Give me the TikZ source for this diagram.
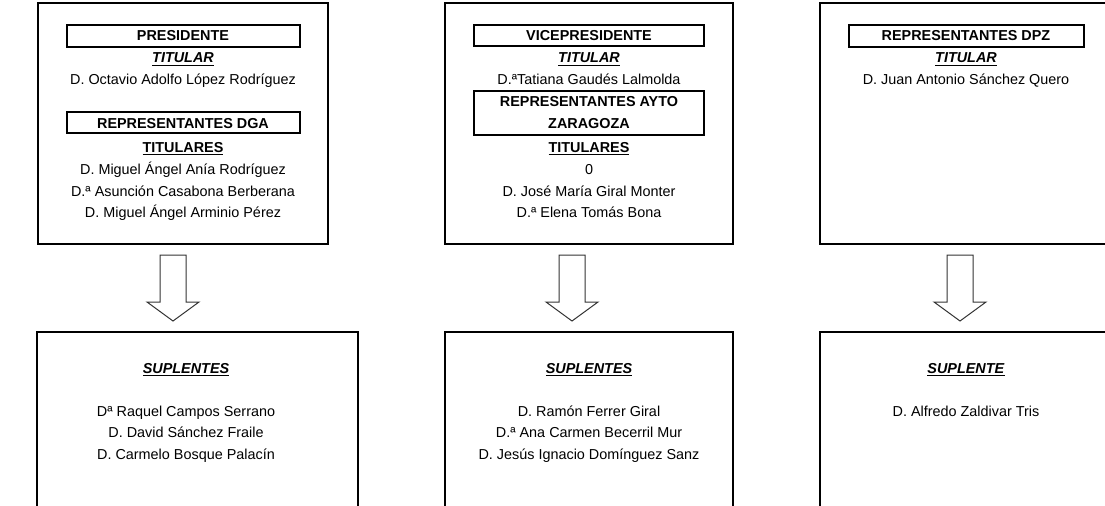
\documentclass[tikz,border=0pt]{standalone}
\usepackage{fontspec}
\setmainfont{Liberation Sans}
\usetikzlibrary{calc}
\begin{document}
\begin{tikzpicture}[x=0.75pt,y=-0.75pt,
  font=\fontsize{10.8}{13}\selectfont,
  outerbox/.style={draw=black,line width=1.5pt},
  headbox/.style={draw=black,line width=1.5pt},
  txt/.style={inner sep=0pt,anchor=base},
  blockarrow/.style={draw=black!80,line width=0.75pt,fill=white,line join=miter}]
\clip (0,0) rectangle (1105,506);
% outer boxes top
\draw[outerbox] (38,3) rectangle (328,244);
\draw[outerbox] (445,3) rectangle (733,244);
\draw[outerbox] (820,3) rectangle (1120,244);
% outer boxes bottom
\draw[outerbox] (37,332) rectangle (358,530);
\draw[outerbox] (445,332) rectangle (733,530);
\draw[outerbox] (820,332) rectangle (1120,530);
% header boxes
\draw[headbox] (67,25) rectangle (300,47);
\draw[headbox] (67,112) rectangle (300,133);
\draw[headbox] (474,25) rectangle (704,46);
\draw[headbox] (474,91) rectangle (704,135);
\draw[headbox] (849,25) rectangle (1084,47);
% column 1
\node[txt] (p1) at (183,41) {\textbf{PRESIDENTE}};
\node[txt] (p2) at (183,63) {\underline{\textbf{\textit{TITULAR}}}};
\node[txt] (p3) at (183,85) {D. Octavio Adolfo López Rodríguez};
\node[txt] (p4) at (183,128) {\textbf{REPRESENTANTES DGA}};
\node[txt] (p5) at (183,152) {\underline{\textbf{TITULARES}}};
\node[txt] (p6) at (183,175) {D. Miguel Ángel Anía Rodríguez};
\node[txt] (p7) at (183,196) {D.ª Asunción Casabona Berberana};
\node[txt] (p8) at (183,217) {D. Miguel Ángel Arminio Pérez};
% column 2
\node[txt] (v1) at (589,41) {\textbf{VICEPRESIDENTE}};
\node[txt] (v2) at (589,63) {\underline{\textbf{\textit{TITULAR}}}};
\node[txt] (v3) at (589,85) {D.ªTatiana Gaudés Lalmolda};
\node[txt] (v4) at (589,107) {\textbf{REPRESENTANTES AYTO}};
\node[txt] (v5) at (589,129) {\textbf{ZARAGOZA}};
\node[txt] (v6) at (589,152) {\underline{\textbf{TITULARES}}};
\node[txt] (v7) at (589,175) {0};
\node[txt] (v8) at (589,196) {D. José María Giral Monter};
\node[txt] (v9) at (589,217) {D.ª Elena Tomás Bona};
% column 3
\node[txt] (d1) at (966,41) {\textbf{REPRESENTANTES DPZ}};
\node[txt] (d2) at (966,63) {\underline{\textbf{\textit{TITULAR}}}};
\node[txt] (d3) at (966,85) {D. Juan Antonio Sánchez Quero};
% bottom column 1
\node[txt] (s1) at (186,373) {\underline{\textbf{\textit{SUPLENTES}}}};
\node[txt] (s2) at (186,416) {Dª Raquel Campos Serrano};
\node[txt] (s3) at (186,437) {D. David Sánchez Fraile};
\node[txt] (s4) at (186,459) {D. Carmelo Bosque Palacín};
% bottom column 2
\node[txt] (t1) at (589,373) {\underline{\textbf{\textit{SUPLENTES}}}};
\node[txt] (t2) at (589,416) {D. Ramón Ferrer Giral};
\node[txt] (t3) at (589,437) {D.ª Ana Carmen Becerril Mur};
\node[txt] (t4) at (589,459) {D. Jesús Ignacio Domínguez Sanz};
% bottom column 3
\node[txt] (u1) at (966,373) {\underline{\textbf{\textit{SUPLENTE}}}};
\node[txt] (u2) at (966,416) {D. Alfredo Zaldivar Tris};
% block arrows
\foreach \cx/\nm in {173/a1,572/a2,960/a3}{
  \coordinate (\nm) at (\cx,255);
  \draw[blockarrow] ($(\nm)+(-13,0)$) -- ($(\nm)+(13,0)$) -- ($(\nm)+(13,47)$) -- ($(\nm)+(26,47)$) -- ($(\nm)+(0,66)$) -- ($(\nm)+(-26,47)$) -- ($(\nm)+(-13,47)$) -- cycle;
}
\end{tikzpicture}
\end{document}
